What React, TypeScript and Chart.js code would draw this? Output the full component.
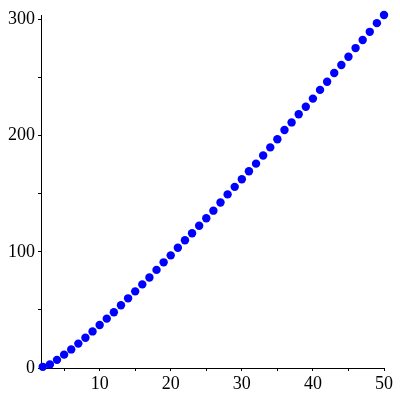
import React, { useEffect, useRef } from "react";
import { Chart, registerables } from "chart.js";

Chart.register(...registerables);

const xValues = [
  2, 3, 4, 5, 6, 7, 8, 9, 10, 11, 12, 13, 14, 15, 16, 17, 18, 19, 20, 21, 22, 23, 24, 25, 26,
  27, 28, 29, 30, 31, 32, 33, 34, 35, 36, 37, 38, 39, 40, 41, 42, 43, 44, 45, 46, 47, 48, 49, 50,
];
const yValues = [
  1, 3, 7, 11.5, 16, 21, 26, 31.5, 37, 42.5, 48, 54, 60, 66, 72, 78, 84.5, 91, 97, 103.5, 110,
  116, 122.5, 129, 135.5, 142.5, 149.5, 156, 162.5, 169.5, 176, 183, 190, 197, 205, 211.5, 218.5,
  225, 232, 239.5, 246.5, 254, 261, 268, 275.5, 282.5, 289.5, 297, 304,
];
const xTicks = [5, 10, 15, 20, 25, 30, 35, 40, 45, 50];
const xLabeled = [10, 20, 30, 40, 50];
const yTicks = [0, 50, 100, 150, 200, 250, 300];
const yLabeled = [0, 100, 200, 300];

export default function App() {
  const ref = useRef<HTMLCanvasElement>(null);
  useEffect(() => {
    if (!ref.current) return;
    const font = { family: "'Liberation Serif', 'Times New Roman', serif", size: 18 };
    const chart = new Chart(ref.current, {
      type: "scatter",
      data: {
        datasets: [
          {
            data: xValues.map((x, i) => ({ x, y: yValues[i] })),
            backgroundColor: "#0000ff",
            borderWidth: 0,
            pointRadius: 4.2,
            clip: false,
          } as any,
        ],
      },
      options: {
        animation: false,
        responsive: false,
        devicePixelRatio: 1,
        layout: { padding: { top: 15, right: 16, left: 0, bottom: 0 } },
        plugins: { legend: { display: false }, tooltip: { enabled: false } },
        scales: {
          x: {
            type: "linear",
            min: 1.75,
            max: 50,
            afterBuildTicks: (s: any) => {
              s.ticks = xTicks.map((v) => ({ value: v }));
            },
            afterFit: (s: any) => {
              s.height = 32;
            },
            border: { display: true, color: "#000", width: 1 },
            grid: { drawOnChartArea: false, drawTicks: true, tickLength: 3, color: "#000" },
            ticks: {
              color: "#000",
              font,
              padding: 2,
              maxRotation: 0,
              autoSkip: false,
              callback: (v: any) => (xLabeled.includes(Number(v)) ? String(v) : ""),
            },
          },
          y: {
            type: "linear",
            min: 0,
            max: 304,
            afterBuildTicks: (s: any) => {
              s.ticks = yTicks.map((v) => ({ value: v }));
            },
            afterFit: (s: any) => {
              s.width = 41;
            },
            border: { display: true, color: "#000", width: 1 },
            grid: { drawOnChartArea: false, drawTicks: true, tickLength: 3, color: "#000" },
            ticks: {
              color: "#000",
              font,
              padding: 3,
              autoSkip: false,
              callback: (v: any) => (yLabeled.includes(Number(v)) ? String(v) : ""),
            },
          },
        },
      },
    });
    return () => chart.destroy();
  }, []);
  return (
    <div style={{ position: "fixed", left: 0, top: 0, width: 400, height: 400, background: "#fff" }}>
      <canvas ref={ref} width={400} height={400} />
    </div>
  );
}
